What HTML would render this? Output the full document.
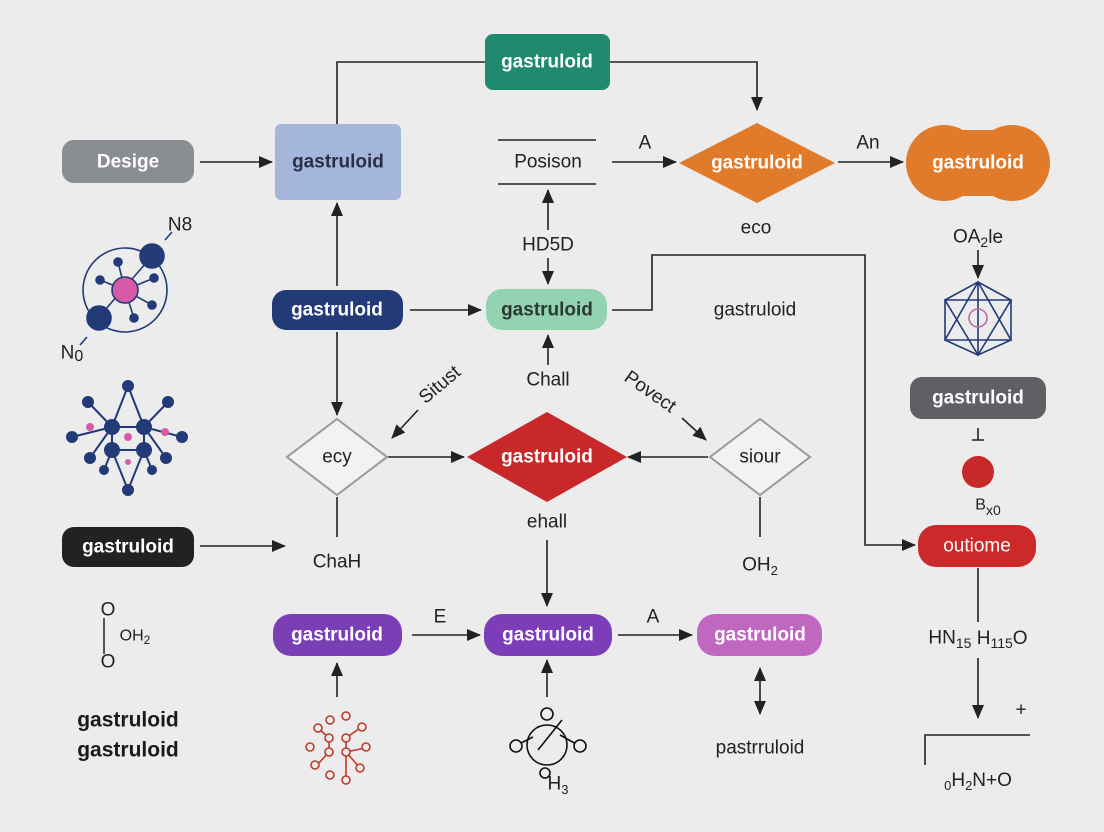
<!DOCTYPE html>
<html><head><meta charset="utf-8"><style>
html,body{margin:0;padding:0;background:#ececec;}
svg{display:block;font-family:"Liberation Sans",sans-serif;}
</style></head><body>
<svg width="1104" height="832" viewBox="0 0 1104 832" xmlns="http://www.w3.org/2000/svg">
<defs>
<marker id="as" markerWidth="14" markerHeight="14" refX="13" refY="7" orient="auto-start-reverse" markerUnits="userSpaceOnUse" viewBox="0 0 14 14"><path d="M0,1 L14,7 L0,13 z" fill="#222"/></marker>
</defs>
<rect width="1104" height="832" fill="#ececec"/>
<g stroke="#222" stroke-width="1.6" fill="none">
<path d="M337,124 V62 H485"/>
<path d="M610,62 H757 V110" marker-end="url(#as)"/>
<path d="M200,162 H272" marker-end="url(#as)"/>
<path d="M612,162 H676" marker-end="url(#as)"/>
<path d="M838,162 H903" marker-end="url(#as)"/>
<path d="M337,286 V203" marker-end="url(#as)"/>
<path d="M410,310 H481" marker-end="url(#as)"/>
<path d="M548,230 V190" marker-end="url(#as)"/>
<path d="M548,258 V284" marker-end="url(#as)"/>
<path d="M612,310 H652 V255 H865 V545 H915" marker-end="url(#as)"/>
<path d="M548,365 V335" marker-end="url(#as)"/>
<path d="M337,332 V415" marker-end="url(#as)"/>
<path d="M388,457 H464" marker-end="url(#as)"/>
<path d="M708,457 H628" marker-end="url(#as)"/>
<path d="M418,410 L392,438" marker-end="url(#as)"/>
<path d="M682,418 L706,440" marker-end="url(#as)"/>
<path d="M547,540 V606" marker-end="url(#as)"/>
<path d="M337,497 V537"/>
<path d="M760,497 V537"/>
<path d="M200,546 H285" marker-end="url(#as)"/>
<path d="M412,635 H480" marker-end="url(#as)"/>
<path d="M618,635 H692" marker-end="url(#as)"/>
<path d="M337,697 V663" marker-end="url(#as)"/>
<path d="M547,697 V660" marker-end="url(#as)"/>
<path d="M760,668 V714" marker-end="url(#as)" marker-start="url(#as)"/>
<path d="M978,250 V278" marker-end="url(#as)"/>
<path d="M978,568 V622"/>
<path d="M978,658 V718" marker-end="url(#as)"/>
<path d="M925,765 V735 H1030"/>
<path d="M498,140 H596 M498,184 H596"/>
<path d="M972,440 H984 M978,428 V440"/>
</g>
<rect x="485" y="34" width="125" height="56" rx="8" fill="#1f8a6e"/>
<rect x="62" y="140" width="132" height="43" rx="12" fill="#8a8d91"/>
<rect x="275" y="124" width="126" height="76" rx="6" fill="#a5b6dd"/>
<path d="M757,123 L835,163 L757,203 L679,163 z" fill="#e07b2c"/>
<circle cx="944" cy="163" r="38" fill="#e07b2c"/><circle cx="1012" cy="163" r="38" fill="#e07b2c"/><rect x="944" y="130" width="68" height="66" fill="#e07b2c"/>
<rect x="272" y="290" width="131" height="40" rx="14" fill="#233a78"/>
<rect x="486" y="289" width="121" height="41" rx="16" fill="#92d3b2"/>
<path d="M337,419 L387,457 L337,495 L287,457 z" fill="#f2f2f2" stroke="#999" stroke-width="2"/>
<path d="M547,412 L627,457 L547,502 L467,457 z" fill="#c8282a"/>
<path d="M760,419 L810,457 L760,495 L710,457 z" fill="#f2f2f2" stroke="#999" stroke-width="2"/>
<rect x="62" y="527" width="132" height="40" rx="12" fill="#222"/>
<rect x="273" y="614" width="129" height="42" rx="18" fill="#7b3fb5"/>
<rect x="484" y="614" width="128" height="42" rx="18" fill="#7d3db8"/>
<rect x="697" y="614" width="125" height="42" rx="18" fill="#c067bf"/>
<rect x="910" y="377" width="136" height="42" rx="12" fill="#5e6065"/>
<circle cx="978" cy="472" r="16" fill="#c8282a"/>
<rect x="918" y="525" width="118" height="42" rx="18" fill="#cc2a2a"/>
<g font-size="19" text-anchor="middle" dominant-baseline="central" fill="#fff" font-weight="bold">
<text x="547" y="62">gastruloid</text>
<text x="128" y="162">Desige</text>
<text x="757" y="163">gastruloid</text>
<text x="978" y="163">gastruloid</text>
<text x="337" y="310">gastruloid</text>
<text x="547" y="457">gastruloid</text>
<text x="128" y="547">gastruloid</text>
<text x="337" y="635">gastruloid</text>
<text x="548" y="635">gastruloid</text>
<text x="760" y="635">gastruloid</text>
<text x="978" y="398">gastruloid</text>
<text x="977" y="546" font-weight="normal">outiome</text>
</g>
<g font-size="19" text-anchor="middle" dominant-baseline="central" fill="#222">
<text x="338" y="162" font-weight="bold" fill="#2a2f44">gastruloid</text>
<text x="547" y="310" font-weight="bold" fill="#2a3a33">gastruloid</text>
<text x="548" y="162">Posison</text>
<text x="645" y="143">A</text>
<text x="868" y="143">An</text>
<text x="756" y="228">eco</text>
<text x="548" y="245">HD5D</text>
<text x="755" y="310">gastruloid</text>
<text x="548" y="380">Chall</text>
<text x="337" y="457">ecy</text>
<text x="760" y="457">siour</text>
<text x="547" y="522">ehall</text>
<text x="337" y="562">ChaH</text>
<text x="760" y="565">OH<tspan font-size="13" dy="5">2</tspan></text>
<text x="440" y="617">E</text>
<text x="653" y="617">A</text>
<text x="760" y="748">pastrruloid</text>
<text x="978" y="237">OA<tspan font-size="14" dy="5">2</tspan><tspan dy="-5">le</tspan></text>
<text x="978" y="638">HN<tspan font-size="14" dy="5">15</tspan><tspan dy="-5"> H</tspan><tspan font-size="14" dy="5">115</tspan><tspan dy="-5">O</tspan></text>
<text x="1021" y="710">+</text>
<text x="978" y="780"><tspan font-size="13" dy="5">0</tspan><tspan dy="-5">H</tspan><tspan font-size="13" dy="5">2</tspan><tspan dy="-5">N+O</tspan></text>
<text x="988" y="505" font-size="16">B<tspan font-size="14" dy="5">x0</tspan></text>
<text x="128" y="720" font-size="21" font-weight="bold" fill="#1a1a1a">gastruloid</text>
<text x="128" y="750" font-size="21" font-weight="bold" fill="#1a1a1a">gastruloid</text>
<text x="180" y="225">N8</text>
<text x="72" y="353">N<tspan font-size="16" dy="3">0</tspan></text>
<text x="108" y="610">O</text>
<text x="108" y="662">O</text>
<text x="135" y="636" font-size="16">OH<tspan font-size="12" dy="4">2</tspan></text>
<text x="558" y="784">H<tspan font-size="13" dy="5">3</tspan></text>
<text x="440" y="385" transform="rotate(-40 440 385)">Situst</text>
<text x="650" y="392" transform="rotate(35 650 392)">Povect</text>
</g>
<path d="M104,618 V654" stroke="#222" stroke-width="1.5"/>
<g stroke="#233a78" stroke-width="1.6" fill="#233a78">
<circle cx="125" cy="290" r="42" fill="none"/>
<path d="M98,318 L153,255 M125,290 L118,262 M125,290 L100,280 M125,290 L154,278 M125,290 L152,305 M125,290 L134,318 M87,337 L80,345 M165,240 L172,232"/>
<circle cx="152" cy="256" r="12"/><circle cx="99" cy="318" r="12"/>
<circle cx="118" cy="262" r="4"/><circle cx="100" cy="280" r="4"/><circle cx="154" cy="278" r="4"/><circle cx="152" cy="305" r="4"/><circle cx="134" cy="318" r="4"/>
<circle cx="125" cy="290" r="13" fill="#d65aa8" stroke="#233a78"/>
</g>
<g stroke="#233a78" stroke-width="2" fill="#233a78">
<path d="M112,427 L88,402 M112,427 L72,437 M112,427 L90,458 M144,427 L168,402 M144,427 L182,437 M144,427 L166,458 M112,450 L128,490 M144,450 L128,490 M128,386 L112,427 M128,386 L144,427 M112,427 H144 M112,450 H144 M112,427 V450 M144,427 V450 M112,450 L104,470 M144,450 L152,470"/>
<circle cx="112" cy="427" r="7"/><circle cx="144" cy="427" r="7"/><circle cx="112" cy="450" r="7"/><circle cx="144" cy="450" r="7"/>
<circle cx="128" cy="386" r="5"/><circle cx="128" cy="490" r="5"/><circle cx="88" cy="402" r="5"/><circle cx="168" cy="402" r="5"/><circle cx="72" cy="437" r="5"/><circle cx="182" cy="437" r="5"/><circle cx="90" cy="458" r="5"/><circle cx="166" cy="458" r="5"/><circle cx="104" cy="470" r="4"/><circle cx="152" cy="470" r="4"/>
<circle cx="128" cy="437" r="4" fill="#d65aa8" stroke="none"/><circle cx="90" cy="427" r="4" fill="#d65aa8" stroke="none"/><circle cx="165" cy="432" r="4" fill="#d65aa8" stroke="none"/><circle cx="128" cy="462" r="3" fill="#d65aa8" stroke="none"/>
</g>
<g stroke="#c0392b" stroke-width="1.6" fill="#ececec">
<path d="M329,738 L318,728 M346,738 L360,728 M329,752 L318,764 M346,752 L365,748 M346,752 L360,768 M346,752 V778 M329,738 V752 M346,738 V752"/>
<circle cx="329" cy="738" r="4"/><circle cx="346" cy="738" r="4"/><circle cx="329" cy="752" r="4"/><circle cx="346" cy="752" r="4"/>
<circle cx="330" cy="720" r="4"/><circle cx="346" cy="716" r="4"/><circle cx="318" cy="728" r="4"/><circle cx="362" cy="727" r="4"/><circle cx="310" cy="747" r="4"/><circle cx="366" cy="747" r="4"/><circle cx="315" cy="765" r="4"/><circle cx="360" cy="768" r="4"/><circle cx="330" cy="775" r="4"/><circle cx="346" cy="780" r="4"/>
</g>
<g stroke="#111" stroke-width="1.6" fill="#ececec">
<circle cx="547" cy="745" r="20" fill="none"/>
<path d="M517,745 L533,737 M562,720 L538,750 M578,745 L560,735"/>
<circle cx="547" cy="714" r="6"/><circle cx="516" cy="746" r="6"/><circle cx="580" cy="746" r="6"/><circle cx="545" cy="773" r="5"/>
</g>
<g stroke="#233a78" stroke-width="1.6" fill="none">
<path d="M978,282 L1011,300 L1011,340 L978,355 L945,340 L945,300 z M978,282 L945,340 L1011,340 z M945,300 L1011,300 L978,355 z M978,282 V355"/>
<circle cx="978" cy="318" r="9" stroke="#c06aa8"/>
</g>
</svg>
</body></html>
